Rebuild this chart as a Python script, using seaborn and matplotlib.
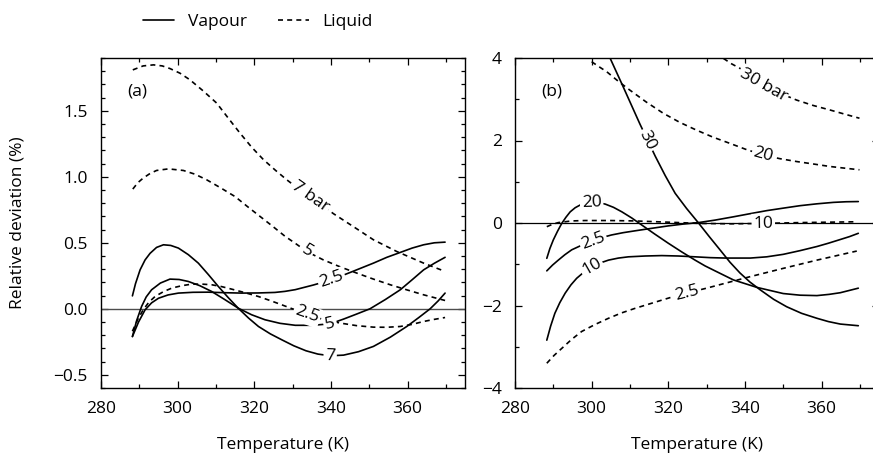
import numpy as np
import pandas as pd
import matplotlib
matplotlib.use("Agg")
import matplotlib.pyplot as plt
from matplotlib.lines import Line2D
from matplotlib.ticker import MultipleLocator, FuncFormatter
import seaborn as sns

sns.set_theme(style="ticks")
plt.rcParams['font.family'] = ['Open Sans', 'DejaVu Sans']
for k in ("text.color", "axes.labelcolor", "xtick.color", "ytick.color", "axes.edgecolor"):
    plt.rcParams[k] = "black"
FS = 12.5

# ---------------- Panel (a) data ----------------
a_vap7_T = [288.2, 289.0, 290.2, 291.5, 292.8, 294.5, 296.3, 298.2, 300.2, 302.8, 305.4, 308.0, 310.6, 313.2,
            315.8, 318.5, 321.1, 324.2, 327.2, 330.3, 333.5, 336.6, 339.8, 343.3, 347.2, 351.1, 355.5, 359.8,
            363.0, 365.9, 368.0, 369.8]
a_vap7_v = [0.098, 0.19, 0.295, 0.37, 0.42, 0.465, 0.485, 0.48, 0.46, 0.41, 0.346, 0.26, 0.17, 0.085,
            0.005, -0.07, -0.134, -0.19, -0.235, -0.28, -0.318, -0.343, -0.356, -0.351, -0.325, -0.285, -0.215, -0.134,
            -0.065, 0.0, 0.06, 0.119]

a_vap5_T = [288.2, 289.3, 290.6, 291.8, 293.2, 295.5, 298.0, 300.4, 302.8, 305.8, 308.9, 312.3, 315.8, 319.3,
            322.8, 326.7, 330.7, 335.2, 339.8, 343.3, 346.7, 350.2, 354.2, 358.1, 361.2, 364.2, 367.0, 369.8]
a_vap5_v = [-0.21, -0.09, 0.018, 0.09, 0.144, 0.195, 0.225, 0.222, 0.207, 0.175, 0.131, 0.07, 0.005, -0.045,
            -0.083, -0.11, -0.125, -0.125, -0.114, -0.078, -0.04, 0.0, 0.07, 0.144, 0.22, 0.295, 0.345, 0.39]

a_vap25_T = [288.2, 289.8, 291.5, 293.2, 295.0, 297.5, 300.2, 304.0, 308.0, 312.3, 316.7, 321.0, 325.4, 328.0,
             330.7, 335.4, 340.2, 345.0, 351.1, 354.6, 358.1, 361.2, 364.2, 367.0, 369.8]
a_vap25_v = [-0.21, -0.1, -0.008, 0.045, 0.08, 0.105, 0.119, 0.125, 0.126, 0.122, 0.119, 0.12, 0.124, 0.132,
             0.145, 0.18, 0.22, 0.275, 0.346, 0.39, 0.427, 0.46, 0.485, 0.5, 0.505]

a_liq7_T = [288.3, 291.0, 293.7, 296.0, 298.0, 300.6, 303.2, 306.7, 310.2, 313.2, 316.3, 319.3, 322.4, 325.5,
            328.5, 331.5, 334.6, 340.7, 346.8, 351.1, 357.2, 364.2, 369.8]
a_liq7_v = [1.81, 1.84, 1.848, 1.84, 1.82, 1.785, 1.735, 1.65, 1.558, 1.445, 1.33, 1.225, 1.13, 1.05,
            0.977, 0.91, 0.85, 0.72, 0.605, 0.523, 0.434, 0.346, 0.283]

a_liq5_T = [288.3, 289.6, 291.0, 292.8, 294.5, 297.6, 301.5, 304.5, 307.6, 311.3, 315.0, 318.2, 321.5, 324.8,
            328.0, 331.0, 333.7, 338.0, 342.4, 346.8, 351.1, 355.5, 360.0, 364.2, 369.8]
a_liq5_v = [0.907, 0.955, 0.99, 1.025, 1.048, 1.06, 1.048, 1.02, 0.977, 0.915, 0.85, 0.775, 0.70, 0.625,
            0.55, 0.49, 0.434, 0.371, 0.318, 0.27, 0.225, 0.182, 0.142, 0.106, 0.063]

a_liq25_T = [288.2, 289.6, 291.0, 292.5, 294.1, 296.3, 298.5, 301.1, 303.7, 306.3, 308.9, 311.5, 314.1, 317.6,
             321.1, 324.2, 327.2, 330.4, 333.7, 338.0, 342.4, 346.8, 351.1, 354.6, 358.1, 361.2, 364.2, 367.0, 369.8]
a_liq25_v = [-0.17, -0.08, -0.008, 0.05, 0.093, 0.13, 0.157, 0.175, 0.187, 0.187, 0.182, 0.168, 0.149, 0.122,
             0.093, 0.062, 0.03, -0.005, -0.045, -0.08, -0.108, -0.128, -0.139, -0.14, -0.134, -0.118, -0.096, -0.08, -0.066]

# ---------------- Panel (b) data ----------------
b_vap30_T = [304.8, 308.0, 312.6, 316.6, 319.2, 321.8, 324.8, 327.9, 330.7, 333.5, 336.1, 338.7, 341.3, 344.0,
             347.5, 350.9, 354.8, 358.8, 361.8, 364.9, 369.6]
b_vap30_v = [4.0, 3.35, 2.40, 1.62, 1.15, 0.72, 0.35, 0.0, -0.33, -0.65, -0.95, -1.21, -1.43, -1.62,
             -1.85, -2.03, -2.19, -2.31, -2.39, -2.45, -2.49]

b_vap20_T = [288.3, 289.1, 290.0, 291.1, 292.2, 293.3, 294.4, 295.7, 297.0, 298.5, 300.0, 301.8, 303.5, 305.7,
             307.9, 310.5, 313.1, 316.5, 320.0, 323.5, 327.0, 329.6, 332.2, 337.0, 343.1, 350.0, 354.4, 358.8,
             362.0, 364.9, 369.6]
b_vap20_v = [-0.856, -0.62, -0.41, -0.2, -0.01, 0.14, 0.27, 0.37, 0.436, 0.475, 0.49, 0.485, 0.46, 0.38,
             0.27, 0.12, -0.05, -0.27, -0.49, -0.70, -0.9, -1.04, -1.16, -1.38, -1.56, -1.71, -1.75, -1.76,
             -1.73, -1.69, -1.58]

b_vap10_T = [288.3, 289.3, 290.4, 291.7, 293.1, 294.6, 296.1, 298.0, 300.0, 302.2, 304.4, 307.0, 309.6, 314.0,
             318.3, 322.6, 327.0, 331.0, 335.0, 341.4, 345.7, 350.0, 354.4, 358.8, 361.8, 364.9, 367.3, 369.6]
b_vap10_v = [-2.84, -2.5, -2.19, -1.93, -1.70, -1.50, -1.34, -1.19, -1.06, -0.97, -0.9, -0.85, -0.82, -0.80,
             -0.79, -0.80, -0.82, -0.84, -0.85, -0.85, -0.82, -0.76, -0.67, -0.57, -0.49, -0.40, -0.33, -0.25]

b_vap25_T = [288.3, 289.8, 291.3, 293.0, 294.8, 297.6, 300.4, 302.8, 305.2, 308.2, 311.3, 315.6, 320.0, 324.0,
             327.9, 332.2, 337.0, 341.3, 345.7, 350.0, 354.4, 358.8, 363.1, 366.4, 369.6]
b_vap25_v = [-1.16, -1.02, -0.9, -0.77, -0.65, -0.53, -0.43, -0.35, -0.29, -0.235, -0.19, -0.13, -0.07, -0.025,
             0.01, 0.07, 0.15, 0.225, 0.3, 0.36, 0.42, 0.465, 0.5, 0.515, 0.52]

b_liq30_T = [334.4, 336.5, 338.7, 341.7, 344.8, 349.1, 353.5, 357.8, 362.2, 366.0, 369.9]
b_liq30_v = [3.99, 3.86, 3.75, 3.53, 3.35, 3.15, 2.98, 2.85, 2.74, 2.64, 2.54]

b_liq20_T = [300.0, 301.9, 303.9, 306.9, 310.0, 314.3, 318.7, 323.0, 327.4, 331.7, 336.1, 340.4, 344.8, 349.1,
             353.5, 357.9, 362.2, 366.0, 369.9]
b_liq20_v = [3.91, 3.79, 3.67, 3.44, 3.22, 2.93, 2.66, 2.44, 2.25, 2.08, 1.93, 1.78, 1.65, 1.56,
             1.49, 1.43, 1.37, 1.33, 1.29]

b_liq10_T = [288.3, 289.8, 291.3, 294.8, 298.3, 304.8, 311.3, 320.0, 328.3, 336.5, 344.8, 354.4, 362.0, 369.2]
b_liq10_v = [-0.09, -0.03, 0.01, 0.05, 0.06, 0.06, 0.05, 0.02, -0.01, -0.02, -0.01, 0.01, 0.02, 0.03]

b_liq25_T = [288.3, 290.2, 292.2, 294.8, 297.4, 300.9, 304.4, 307.8, 311.3, 314.8, 318.3, 321.5, 324.8, 330.0,
             335.7, 341.4, 345.7, 350.0, 354.4, 358.8, 364.0, 369.2]
b_liq25_v = [-3.40, -3.21, -3.04, -2.82, -2.63, -2.46, -2.31, -2.18, -2.07, -1.97, -1.87, -1.78, -1.70, -1.58,
             -1.44, -1.30, -1.20, -1.10, -1.00, -0.90, -0.79, -0.68]

# curves: (panel, phase, T, values, label text, label temperature)
curves = [
    ("a", "Liquid", a_liq7_T, a_liq7_v, "7 bar", 334.6),
    ("a", "Liquid", a_liq5_T, a_liq5_v, "5", 333.7),
    ("a", "Liquid", a_liq25_T, a_liq25_v, "2.5", 333.7),
    ("a", "Vapour", a_vap25_T, a_vap25_v, "2.5", 340.2),
    ("a", "Vapour", a_vap5_T, a_vap5_v, "5", 339.8),
    ("a", "Vapour", a_vap7_T, a_vap7_v, "7", 339.8),
    ("b", "Liquid", b_liq30_T, b_liq30_v, "30 bar", 344.8),
    ("b", "Liquid", b_liq20_T, b_liq20_v, "20", 344.8),
    ("b", "Liquid", b_liq10_T, b_liq10_v, "10", 344.8),
    ("b", "Liquid", b_liq25_T, b_liq25_v, "2.5", 324.8),
    ("b", "Vapour", b_vap30_T, b_vap30_v, "30", 314.6),
    ("b", "Vapour", b_vap20_T, b_vap20_v, "20", 300.0),
    ("b", "Vapour", b_vap25_T, b_vap25_v, "2.5", 300.4),
    ("b", "Vapour", b_vap10_T, b_vap10_v, "10", 300.0),
]

W, H = 873, 455
fig = plt.figure(figsize=(W / 100, H / 100), dpi=100)

def px_axes(l, r, t, b):
    return fig.add_axes([l / W, 1 - b / H, (r - l) / W, (b - t) / H])

ax_a = px_axes(101, 465, 58, 388)
ax_b = px_axes(515, 879, 58, 388)
axes = {"a": ax_a, "b": ax_b}

ax_a.set_xlim(280, 375)
ax_a.set_ylim(-0.6, 1.9)
ax_b.set_xlim(280, 375)
ax_b.set_ylim(-4, 4)

LW = 1.2
dash = (0, (3.0, 2.5))
ax_a.axhline(0, color="0.3", lw=1.0, zorder=1)
ax_b.axhline(0, color="black", lw=0.9, zorder=1)

for panel, phase, T, v, lab, tl in curves:
    ax = axes[panel]
    df = pd.DataFrame({"T": T, "v": v})
    ls = "-" if phase == "Vapour" else dash
    sns.lineplot(data=df, x="T", y="v", ax=ax, color="black", lw=LW,
                 linestyle=ls, estimator=None, sort=False, zorder=2)

# inline labels
for panel, phase, T, v, lab, tl in curves:
    ax = axes[panel]
    yl = np.interp(tl, T, v)
    p1 = ax.transData.transform((tl - 1.5, np.interp(tl - 1.5, T, v)))
    p2 = ax.transData.transform((tl + 1.5, np.interp(tl + 1.5, T, v)))
    ang = np.degrees(np.arctan2(p2[1] - p1[1], p2[0] - p1[0]))
    ax.text(tl, yl, lab, fontsize=FS, rotation=ang, rotation_mode="anchor",
            ha="center", va="center", zorder=3, color="black",
            bbox=dict(boxstyle="square,pad=0.1", fc="white", ec="none"))

for ax in (ax_a, ax_b):
    ax.xaxis.set_major_locator(MultipleLocator(20))
    ax.xaxis.set_minor_locator(MultipleLocator(10))
    ax.tick_params(which="both", direction="in", top=True, right=True,
                   labelsize=FS, pad=9.5, width=0.9, color="black", labelcolor="black")
    ax.tick_params(which="major", length=5)
    ax.tick_params(which="minor", length=3)
    for s in ax.spines.values():
        s.set_linewidth(1.0)
        s.set_color("black")
    ax.set_ylabel("")
    ax.set_xlabel("Temperature (K)", fontsize=FS, color="black")
    ax.xaxis.label.set_va("center")
    ax.xaxis.set_label_coords(0.5, -57 / 330)

ax_a.yaxis.set_major_locator(MultipleLocator(0.5))
ax_a.yaxis.set_minor_locator(MultipleLocator(0.1))
ax_a.yaxis.set_major_formatter(FuncFormatter(lambda x, p: f"{x:.1f}".replace("-", "\u2212")))
ax_b.yaxis.set_major_locator(MultipleLocator(2))
ax_b.yaxis.set_minor_locator(MultipleLocator(1))

ax_a.text(0.099, 0.897, "(a)", transform=ax_a.transAxes, fontsize=FS, ha="center", va="center")
ax_b.text(0.102, 0.897, "(b)", transform=ax_b.transAxes, fontsize=FS, ha="center", va="center")

fig.text(18 / W, 1 - 223 / H, "Relative deviation (%)", rotation=90,
         ha="center", va="center", fontsize=FS)

handles = [Line2D([], [], color="black", lw=LW, ls="-"),
           Line2D([], [], color="black", lw=LW, ls=dash)]
fig.legend(handles, ["Vapour", "Liquid"], loc="center", ncol=2,
           bbox_to_anchor=(258 / W, 1 - 22 / H), frameon=False,
           fontsize=FS, handlelength=1.8, columnspacing=1.75, handletextpad=0.8)

fig.savefig("out.png", dpi=100)
